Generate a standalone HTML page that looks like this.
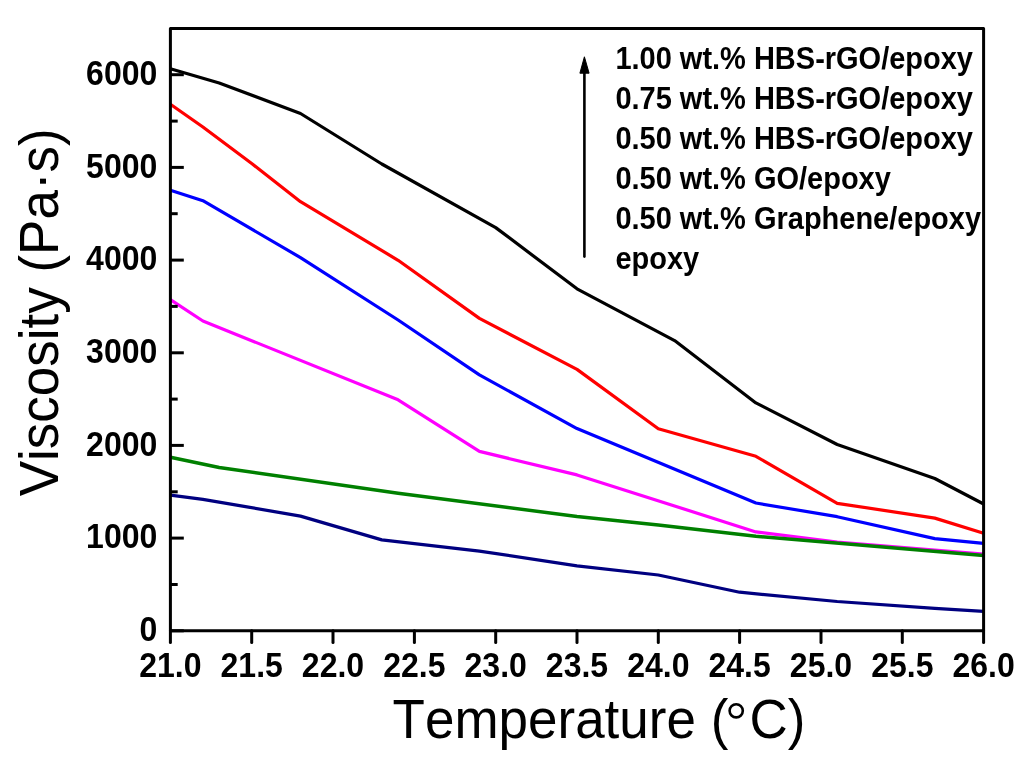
<!DOCTYPE html>
<html><head><meta charset="utf-8"><style>
html,body{margin:0;padding:0;background:#fff;width:1024px;height:765px;overflow:hidden}
svg{display:block;will-change:transform}
text{font-family:"Liberation Sans",sans-serif;fill:#000;font-kerning:none}
.tl{font-size:32px;font-weight:bold}
.lg{font-size:29px;font-weight:bold}
.at{font-size:53px}
</style></head><body>
<svg width="1024" height="765" viewBox="0 0 1024 765">
<rect width="1024" height="765" fill="#fff"/>
<polyline points="170.4,495.2 202.9,499.3 300.5,516.1 381.8,539.9 479.4,551.1 577.0,565.9 658.3,575.0 739.6,592.2 837.2,601.5 934.8,608.3 983.6,611.3" fill="none" stroke="#000080" stroke-width="3.2" stroke-linejoin="round" stroke-linecap="butt"/>
<polyline points="170.4,299.6 202.9,321.0 398.1,399.8 479.4,451.4 577.0,474.9 755.9,531.9 837.2,542.2 934.8,550.1 983.6,554.0" fill="none" stroke="#FF00FF" stroke-width="3.2" stroke-linejoin="round" stroke-linecap="butt"/>
<polyline points="170.4,457.3 219.2,467.5 398.1,493.3 577.0,516.5 658.3,525.0 755.9,536.3 983.6,555.4" fill="none" stroke="#008000" stroke-width="3.5" stroke-linejoin="round" stroke-linecap="butt"/>
<polyline points="170.4,190.2 202.9,200.7 300.5,257.6 398.1,320.0 479.4,374.9 577.0,428.6 755.9,503.0 837.2,516.7 934.8,538.6 983.6,543.3" fill="none" stroke="#0000FF" stroke-width="3.2" stroke-linejoin="round" stroke-linecap="butt"/>
<polyline points="170.4,104.3 202.9,127.0 251.7,163.5 300.5,201.7 398.1,260.3 479.4,318.4 577.0,369.4 658.3,428.8 755.9,456.3 837.2,503.3 934.8,518.1 983.6,533.3" fill="none" stroke="#FF0000" stroke-width="3.2" stroke-linejoin="round" stroke-linecap="butt"/>
<polyline points="170.4,68.8 219.2,83.0 300.5,113.5 381.8,164.0 495.7,227.6 577.0,288.8 674.6,340.6 755.9,402.9 837.2,444.5 934.8,478.5 983.6,504.0" fill="none" stroke="#000000" stroke-width="3.2" stroke-linejoin="round" stroke-linecap="butt"/>
<rect x="170.4" y="28.4" width="813.2" height="602.4" fill="none" stroke="#000" stroke-width="3" stroke-linejoin="round"/>
<line x1="170.4" y1="630.8" x2="183.8" y2="630.8" stroke="#000" stroke-width="3" stroke-linecap="butt"/>
<line x1="170.4" y1="584.5" x2="177.7" y2="584.5" stroke="#000" stroke-width="3" stroke-linecap="butt"/>
<line x1="170.4" y1="538.1" x2="183.8" y2="538.1" stroke="#000" stroke-width="3" stroke-linecap="butt"/>
<line x1="170.4" y1="491.8" x2="177.7" y2="491.8" stroke="#000" stroke-width="3" stroke-linecap="butt"/>
<line x1="170.4" y1="445.4" x2="183.8" y2="445.4" stroke="#000" stroke-width="3" stroke-linecap="butt"/>
<line x1="170.4" y1="399.1" x2="177.7" y2="399.1" stroke="#000" stroke-width="3" stroke-linecap="butt"/>
<line x1="170.4" y1="352.8" x2="183.8" y2="352.8" stroke="#000" stroke-width="3" stroke-linecap="butt"/>
<line x1="170.4" y1="306.4" x2="177.7" y2="306.4" stroke="#000" stroke-width="3" stroke-linecap="butt"/>
<line x1="170.4" y1="260.1" x2="183.8" y2="260.1" stroke="#000" stroke-width="3" stroke-linecap="butt"/>
<line x1="170.4" y1="213.7" x2="177.7" y2="213.7" stroke="#000" stroke-width="3" stroke-linecap="butt"/>
<line x1="170.4" y1="167.4" x2="183.8" y2="167.4" stroke="#000" stroke-width="3" stroke-linecap="butt"/>
<line x1="170.4" y1="121.1" x2="177.7" y2="121.1" stroke="#000" stroke-width="3" stroke-linecap="butt"/>
<line x1="170.4" y1="74.7" x2="183.8" y2="74.7" stroke="#000" stroke-width="3" stroke-linecap="butt"/>
<line x1="170.4" y1="630.8" x2="170.4" y2="642.5" stroke="#000" stroke-width="3" stroke-linecap="round"/>
<line x1="251.7" y1="630.8" x2="251.7" y2="642.5" stroke="#000" stroke-width="3" stroke-linecap="round"/>
<line x1="333.0" y1="630.8" x2="333.0" y2="642.5" stroke="#000" stroke-width="3" stroke-linecap="round"/>
<line x1="414.4" y1="630.8" x2="414.4" y2="642.5" stroke="#000" stroke-width="3" stroke-linecap="round"/>
<line x1="495.7" y1="630.8" x2="495.7" y2="642.5" stroke="#000" stroke-width="3" stroke-linecap="round"/>
<line x1="577.0" y1="630.8" x2="577.0" y2="642.5" stroke="#000" stroke-width="3" stroke-linecap="round"/>
<line x1="658.3" y1="630.8" x2="658.3" y2="642.5" stroke="#000" stroke-width="3" stroke-linecap="round"/>
<line x1="739.6" y1="630.8" x2="739.6" y2="642.5" stroke="#000" stroke-width="3" stroke-linecap="round"/>
<line x1="821.0" y1="630.8" x2="821.0" y2="642.5" stroke="#000" stroke-width="3" stroke-linecap="round"/>
<line x1="902.3" y1="630.8" x2="902.3" y2="642.5" stroke="#000" stroke-width="3" stroke-linecap="round"/>
<line x1="983.6" y1="630.8" x2="983.6" y2="642.5" stroke="#000" stroke-width="3" stroke-linecap="round"/>
<text transform="translate(157.3,640.9) scale(1,1.080)" class="tl" text-anchor="end">0</text>
<text transform="translate(157.3,548.2) scale(1,1.080)" class="tl" text-anchor="end">1000</text>
<text transform="translate(157.3,455.5) scale(1,1.080)" class="tl" text-anchor="end">2000</text>
<text transform="translate(157.3,362.9) scale(1,1.080)" class="tl" text-anchor="end">3000</text>
<text transform="translate(157.3,270.2) scale(1,1.080)" class="tl" text-anchor="end">4000</text>
<text transform="translate(157.3,177.5) scale(1,1.080)" class="tl" text-anchor="end">5000</text>
<text transform="translate(157.3,84.8) scale(1,1.080)" class="tl" text-anchor="end">6000</text>
<text transform="translate(170.4,677.3) scale(1,1.080)" class="tl" text-anchor="middle">21.0</text>
<text transform="translate(251.7,677.3) scale(1,1.080)" class="tl" text-anchor="middle">21.5</text>
<text transform="translate(333.0,677.3) scale(1,1.080)" class="tl" text-anchor="middle">22.0</text>
<text transform="translate(414.4,677.3) scale(1,1.080)" class="tl" text-anchor="middle">22.5</text>
<text transform="translate(495.7,677.3) scale(1,1.080)" class="tl" text-anchor="middle">23.0</text>
<text transform="translate(577.0,677.3) scale(1,1.080)" class="tl" text-anchor="middle">23.5</text>
<text transform="translate(658.3,677.3) scale(1,1.080)" class="tl" text-anchor="middle">24.0</text>
<text transform="translate(739.6,677.3) scale(1,1.080)" class="tl" text-anchor="middle">24.5</text>
<text transform="translate(821.0,677.3) scale(1,1.080)" class="tl" text-anchor="middle">25.0</text>
<text transform="translate(902.3,677.3) scale(1,1.080)" class="tl" text-anchor="middle">25.5</text>
<text transform="translate(983.6,677.3) scale(1,1.080)" class="tl" text-anchor="middle">26.0</text>
<text transform="translate(599,738) scale(1,1.035)" class="at" text-anchor="middle">Temperature (<tspan fill-opacity="0">&#176;</tspan>C)</text>
<circle cx="736.2" cy="710.8" r="6.6" fill="none" stroke="#000" stroke-width="2.6"/>
<text transform="translate(58,312.3) rotate(-90) scale(1,1.04)" class="at" text-anchor="middle">Viscosity (Pa&#183;s)</text>
<text transform="translate(615.4,68.6) scale(1,1.070)" class="lg">1.00 wt.% HBS-rGO/epoxy</text>
<text transform="translate(615.4,108.6) scale(1,1.070)" class="lg">0.75 wt.% HBS-rGO/epoxy</text>
<text transform="translate(615.4,148.6) scale(1,1.070)" class="lg">0.50 wt.% HBS-rGO/epoxy</text>
<text transform="translate(615.4,188.6) scale(1,1.070)" class="lg">0.50 wt.% GO/epoxy</text>
<text transform="translate(615.4,228.6) scale(1,1.070)" class="lg">0.50 wt.% Graphene/epoxy</text>
<text transform="translate(615.4,268.6) scale(1,1.070)" class="lg">epoxy</text>
<line x1="584.4" y1="72" x2="584.4" y2="256.6" stroke="#000" stroke-width="2.6" stroke-linecap="round"/>
<path d="M584.4,56.8 L579.9,73.2 L589.1,73.2 Z" fill="#000" stroke="#000" stroke-width="1" stroke-linejoin="round"/>
</svg>
</body></html>
